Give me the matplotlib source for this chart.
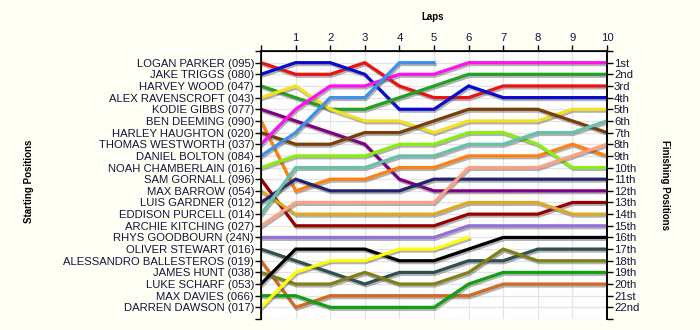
import numpy as np
import matplotlib.pyplot as plt
import matplotlib.patheffects as pe

plt.rcParams['font.family'] = ['Liberation Sans', 'DejaVu Sans']

laps = list(range(11))

drivers = ['LOGAN PARKER (095)', 'JAKE TRIGGS (080)', 'HARVEY WOOD (047)',
           'ALEX RAVENSCROFT (043)', 'KODIE GIBBS (077)', 'BEN DEEMING (090)',
           'HARLEY HAUGHTON (020)', 'THOMAS WESTWORTH (037)', 'DANIEL BOLTON (084)',
           'NOAH CHAMBERLAIN (016)', 'SAM GORNALL (096)', 'MAX BARROW (054)',
           'LUIS GARDNER (012)', 'EDDISON PURCELL (014)', 'ARCHIE KITCHING (027)',
           'RHYS GOODBOURN (24N)', 'OLIVER STEWART (016)', 'ALESSANDRO BALLESTEROS (019)',
           'JAMES HUNT (038)', 'LUKE SCHARF (053)', 'MAX DAVIES (066)',
           'DARREN DAWSON (017)']

colors = ['#ee1111', '#0a0acc', '#22a022', '#f5e020', '#800080', '#ff8010',
          '#7a3f08', '#ff10f0', '#3c92ea', '#88ee10', '#990000', '#dcaa22',
          '#22226e', '#66c0aa', '#ffa080', '#9370db', '#2f4f4f', '#d2691e',
          '#808018', '#000000', '#10a010', '#ffff00']

# running order after each lap, None once a car has retired
positions = [
    [1, 2, 2, 1, 3, 4, 4, 3, 3, 3, 3],
    [2, 1, 1, 2, 5, 5, 3, 4, 4, 4, 4],
    [3, 4, 5, 5, 4, 3, 2, 2, 2, 2, 2],
    [4, 3, 5, 6, 6, 7, 6, 6, 6, 5, 5],
    [5, 6, 7, 8, 11, 12, 12, 12, 12, 12, 12],
    [6, 12, 11, 11, 10, 10, 9, 9, 9, 8, 9],
    [7, 8, 8, 7, 7, 6, 5, 5, 5, 6, 7],
    [8, 5, 3, 3, 2, 2, 1, 1, 1, 1, 1],
    [9, 7, 4, 4, 1, 1, None, None, None, None, None],
    [10, 9, 9, 9, 8, 8, 7, 7, 8, 10, 10],
    [11, 15, 15, 15, 15, 15, 14, 14, 14, 13, 13],
    [12, 14, 14, 14, 14, 14, 13, 13, 13, 14, 14],
    [13, 11, 12, 12, 12, 11, 11, 11, 11, 11, 11],
    [14, 10, 10, 10, 9, 9, 8, 8, 7, 7, 6],
    [15, 13, 13, 13, 13, 13, 10, 10, 10, 9, 8],
    [16, 16, 16, 16, 16, 16, 15, 15, 15, 15, 15],
    [17, 18, 19, 20, 19, 19, 18, 18, 17, 17, 17],
    [18, 22, 21, 21, 21, 21, 21, 20, 20, 20, 20],
    [19, 20, 20, 19, 20, 20, 19, 17, 18, 18, 18],
    [20, 17, 17, 17, 18, 18, 17, 16, 16, 16, 16],
    [21, 21, 22, 22, 22, 22, 20, 19, 19, 19, 19],
    [22, 19, 18, 18, 17, 17, 16, None, None, None, None],
]

finish_labels = ['1st', '2nd', '3rd'] + ['%dth' % n for n in range(4, 21)] + ['21st', '22nd']

txt_col = '#14143c'
bg = '#fffff6'

fig = plt.figure(figsize=(7, 3.3), dpi=100, facecolor=bg)
ax = fig.add_axes([261/700, 1 - 319/330, 346/700, 268/330])
ax.set_facecolor('white')

shadow = [pe.SimpleLineShadow(offset=(0.8, -1.4), shadow_color='#555555', alpha=0.45), pe.Normal()]
for pos, col in zip(positions, colors):
    y = np.array([np.nan if p is None else p for p in pos], dtype=float)
    ax.plot(laps, y, color=col, lw=2.3, solid_joinstyle='miter', path_effects=shadow, zorder=3)

ax.set_xlim(0, 10)
ax.set_ylim(23, 0)

ax.set_xticks(laps)
ax.set_xticklabels([''] + [str(l) for l in laps[1:]])
ax.xaxis.tick_top()
ax.set_yticks(range(24))
ax.set_yticklabels([''] + drivers + [''])
ax.tick_params(axis='both', direction='out', length=4, width=1, labelsize=8.1,
               labelcolor=txt_col, pad=1)
ax.tick_params(axis='x', labelsize=8.2, pad=2)

ax.grid(True, color='#e4e4e4', lw=0.9, zorder=0)
ax.spines['bottom'].set_visible(False)
for s in ('top', 'left', 'right'):
    ax.spines[s].set_linewidth(1.2)

ax2 = ax.twinx()
ax2.set_ylim(23, 0)
ax2.set_yticks(range(24))
ax2.set_yticklabels([''] + finish_labels + [''])
ax2.tick_params(axis='y', direction='out', length=4, width=1, labelsize=8.2,
                labelcolor=txt_col, pad=1)
ax2.spines['bottom'].set_visible(False)
ax2.spines['right'].set_linewidth(1.2)

fig.text(433/700, 1 - 17/330, 'Laps', ha='center', va='center', fontsize=7, fontweight='bold')
fig.text(29/700, 1 - 181/330, 'Starting Positions', ha='center', va='center',
         rotation=90, fontsize=7, fontweight='bold')
fig.text(665/700, 1 - 185/330, 'Finishing Positions', ha='center', va='center',
         rotation=270, fontsize=7, fontweight='bold')

fig.savefig('out.png', dpi=100, facecolor=bg)
